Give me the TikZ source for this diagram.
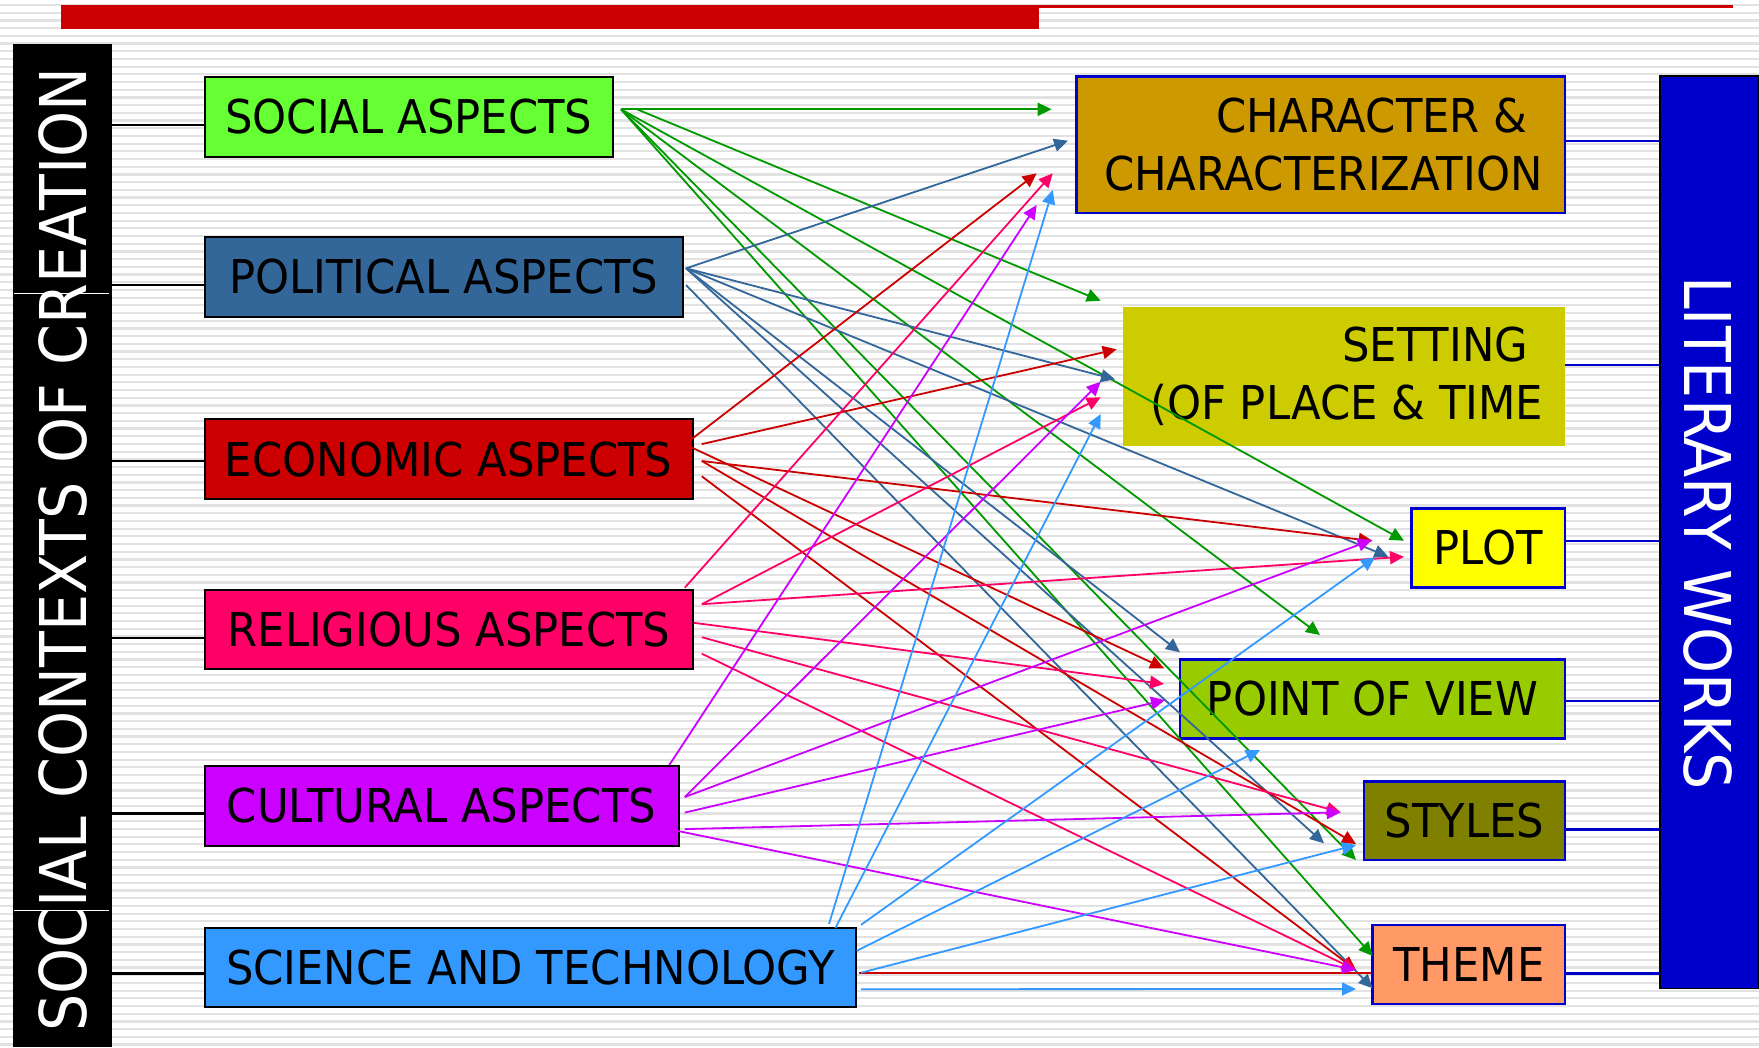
\documentclass[tikz,border=0pt]{standalone}
\usepackage{fontspec}
\newfontfamily\boxfont[FakeStretch=0.93]{DejaVu Sans}
\newfontfamily\barfont[FakeStretch=0.91]{DejaVu Sans}
\usetikzlibrary{arrows.meta,calc}
\definecolor{stripe}{RGB}{226,226,226}
\definecolor{topred}{RGB}{204,0,0}
\definecolor{cSoc}{RGB}{102,255,51}
\definecolor{cPol}{RGB}{51,102,153}
\definecolor{cEco}{RGB}{204,0,0}
\definecolor{cRel}{RGB}{255,0,102}
\definecolor{cCul}{RGB}{204,0,255}
\definecolor{cSci}{RGB}{51,153,255}
\definecolor{cChar}{RGB}{204,153,0}
\definecolor{cSet}{RGB}{204,204,0}
\definecolor{cPlot}{RGB}{255,255,0}
\definecolor{cPov}{RGB}{153,204,0}
\definecolor{cSty}{RGB}{128,128,0}
\definecolor{cThe}{RGB}{255,153,102}
\definecolor{cWorks}{RGB}{0,0,204}
\definecolor{aGreen}{RGB}{0,153,0}
\begin{document}
\begin{tikzpicture}[x=1pt,y=-1pt,
  boxtext/.style={font={\boxfont\fontsize{46.6pt}{58pt}\selectfont},text=black,inner sep=0pt},
  srcbox/.style={boxtext,draw=black,line width=2pt},
  tgtbox/.style={boxtext,draw=cWorks,line width=2.6pt,align=right},
  bartext/.style={font={\barfont\fontsize{64.5pt}{70pt}\selectfont},text=white,inner sep=0pt},
  lconn/.style={draw=black,line width=2.6pt},
  rconn/.style={draw=cWorks,line width=2.2pt},
  arr/.style={line width=1.8pt,-{Triangle[length=14pt,width=13pt]}},
]
\useasboundingbox (0,0) rectangle (1759,1047);
\fill[white] (0,0) rectangle (1759,1047);
\foreach \k in {0,...,136} \fill[stripe] (0,{3.9+7.7*\k}) rectangle (1759,{6.1+7.7*\k});
% top red bars
\fill[topred] (61,5) rectangle (1039,29);
\fill[topred] (1039,5) rectangle (1733,8);
% left black bar
\node[fill=black,inner sep=0pt,minimum width=99.5pt,minimum height=1003pt] (ctx) at (62.25,545.5) {};
\node[bartext,rotate=90] (ctxlabel) at (63.5,549.5) {SOCIAL CONTEXTS OF CREATION};
\draw[white,line width=0.8pt] (14,293) -- (109,293);
\draw[white,line width=0.8pt] (14,910) -- (109,910);
% right blue bar
\node[fill=cWorks,draw=black,line width=1.2pt,inner sep=0pt,minimum width=99pt,minimum height=912.5pt] (works) at (1709.5,532.25) {};
\node[bartext,rotate=-90] (workslabel) at (1708,533) {LITERARY WORKS};
% source boxes
\node[srcbox,fill=cSoc,minimum width=408.5pt,minimum height=80pt] (soc) at (408.75,116.7) {SOCIAL ASPECTS};
\node[srcbox,fill=cPol,minimum width=478.5pt,minimum height=80pt] (pol) at (443.75,276.7) {POLITICAL ASPECTS};
\node[srcbox,fill=cEco,minimum width=488.3pt,minimum height=80pt] (eco) at (448.65,459.3) {ECONOMIC ASPECTS};
\node[srcbox,fill=cRel,minimum width=488.9pt,minimum height=79.3pt] (rel) at (448.95,629.65) {RELIGIOUS ASPECTS};
\node[srcbox,fill=cCul,minimum width=474pt,minimum height=79.5pt] (cul) at (441.5,805.75) {CULTURAL ASPECTS};
\node[srcbox,fill=cSci,minimum width=651.9pt,minimum height=78.8pt] (sci) at (530.45,967.3) {SCIENCE AND TECHNOLOGY};
% target boxes
\node[tgtbox,fill=cChar,minimum width=488.3pt,minimum height=136.3pt] (tChar) at (1320.85,144.85) {CHARACTER \&\hspace*{15pt}\\\hspace*{5pt}CHARACTERIZATION};
\node[boxtext,align=right,fill=cSet,minimum width=441.7pt,minimum height=139pt] (tSet) at (1344.15,376.2) {SETTING\hspace*{15pt}\\\hspace*{5pt}(OF PLACE \& TIME};
\node[tgtbox,fill=cPlot,minimum width=153.3pt,minimum height=79.2pt] (tPlot) at (1488.35,547.9) {PLOT};
\node[tgtbox,fill=cPov,minimum width=385pt,minimum height=79pt] (tPov) at (1372.5,698.8) {POINT OF VIEW};
\node[tgtbox,fill=cSty,minimum width=201pt,minimum height=78.5pt] (tSty) at (1464.5,820.75) {STYLES};
\node[tgtbox,fill=cThe,minimum width=192.3pt,minimum height=79pt] (tThe) at (1468.85,964.5) {THEME};
% connectors to bars
\foreach \n/\d in {soc/8.3,pol/8.3,eco/1.7,rel/8.3,cul/7.7,sci/5.9}{
  \coordinate (l-\n) at ($(\n.west)+(0,\d)$);
  \draw[lconn] (l-\n -| ctx.east) -- (l-\n);
}
\foreach \n/\d in {tChar/-3.5,tSet/-11.6,tPlot/-7.3,tPov/2.5,tSty/8.8,tThe/9}{
  \coordinate (r-\n) at ($(\n.east)+(0,\d)$);
  \draw[rconn] (r-\n) -- (r-\n -| works.west);
}
% arrow start points
\coordinate (gA) at (621,109.3);
\coordinate (gB) at (637,109.3);
\coordinate (pA) at (686,268.3);
\coordinate (pB) at (686,285);
\coordinate (eA) at (691.5,439.2);
\coordinate (eB) at (701.8,444.1);
\coordinate (eC) at (691.5,447.4);
\coordinate (eD) at (701.8,461);
\coordinate (eE) at (701.8,476.3);
\coordinate (rA) at (684.8,587.7);
\coordinate (rB) at (701.8,604.2);
\coordinate (rC) at (693.7,622.8);
\coordinate (rD) at (701.8,637.2);
\coordinate (rE) at (701.8,653.7);
\coordinate (cA) at (669.2,765.2);
\coordinate (cB) at (684.8,797);
\coordinate (cC) at (684.8,812.6);
\coordinate (cD) at (684.8,829.1);
\coordinate (cE) at (678,831);
\coordinate (sA) at (829,924);
\coordinate (sB) at (835.3,928.1);
\coordinate (sC) at (861.1,924.8);
\coordinate (sD) at (856.7,950.8);
\coordinate (sE) at (861.1,972.7);
\coordinate (sF) at (861.1,989.2);
\coordinate (sR) at (859,973);
% arrow tips
\coordinate (gt1) at (1051.7,109.3);
\coordinate (gt2) at (1100.7,300.7);
\coordinate (gt3) at (1404,540.7);
\coordinate (gt4) at (1320,635);
\coordinate (gt5) at (1356,860);
\coordinate (gt6) at (1372.7,956);
\coordinate (bt1) at (1068,140.7);
\coordinate (bt2) at (1115,379.3);
\coordinate (bt3) at (1388.3,556.7);
\coordinate (bt4) at (1180,652.3);
\coordinate (bt5) at (1324,843.3);
\coordinate (bt6) at (1372.7,988.3);
\coordinate (rt1) at (1036.7,173.3);
\coordinate (rt2) at (1116.7,349.3);
\coordinate (rt3) at (1372.7,541);
\coordinate (rt4) at (1164,668.3);
\coordinate (rt5) at (1356,844);
\coordinate (rt6) at (1356,970);
\coordinate (pt1) at (1052.7,173.3);
\coordinate (pt2) at (1100.7,397.3);
\coordinate (pt3) at (1404,556.7);
\coordinate (pt4) at (1164,684);
\coordinate (pt5) at (1340.7,812.3);
\coordinate (pt6) at (1356,970);
\coordinate (mt1) at (1036.7,205);
\coordinate (mt2) at (1100.7,381.7);
\coordinate (mt3) at (1371.7,540);
\coordinate (mt4) at (1165,700);
\coordinate (mt5) at (1340.7,812.3);
\coordinate (mt6) at (1356,970);
\coordinate (lt1) at (1052.7,190);
\coordinate (lt2) at (1100.7,414);
\coordinate (lt3) at (1375,557.3);
\coordinate (lt4) at (1260,750);
\coordinate (lt5) at (1356,845);
\coordinate (lt6) at (1356,989);
% arrows
\foreach \s/\t in {gA/gt1,gB/gt2,gA/gt3,gA/gt4,gA/gt5,gA/gt6} \draw[arr,aGreen] (\s) -- (\t);
\foreach \s/\t in {pA/bt1,pA/bt2,pA/bt3,pA/bt4,pA/bt5,pB/bt6} \draw[arr,cPol] (\s) -- (\t);
\foreach \s/\t in {eA/rt1,eB/rt2,eD/rt3,eC/rt4,eD/rt5,eE/rt6} \draw[arr,cEco] (\s) -- (\t);
\draw[line width=1.8pt,cEco] (sR) -- (sR -| tThe.west);
\foreach \s/\t in {rA/pt1,rB/pt2,rB/pt3,rC/pt4,rD/pt5,rE/pt6} \draw[arr,cRel] (\s) -- (\t);
\foreach \s/\t in {cA/mt1,cB/mt2,cB/mt3,cC/mt4,cD/mt5,cE/mt6} \draw[arr,cCul] (\s) -- (\t);
\foreach \s/\t in {sA/lt1,sB/lt2,sC/lt3,sD/lt4,sE/lt5,sF/lt6} \draw[arr,cSci] (\s) -- (\t);
\end{tikzpicture}
\end{document}
